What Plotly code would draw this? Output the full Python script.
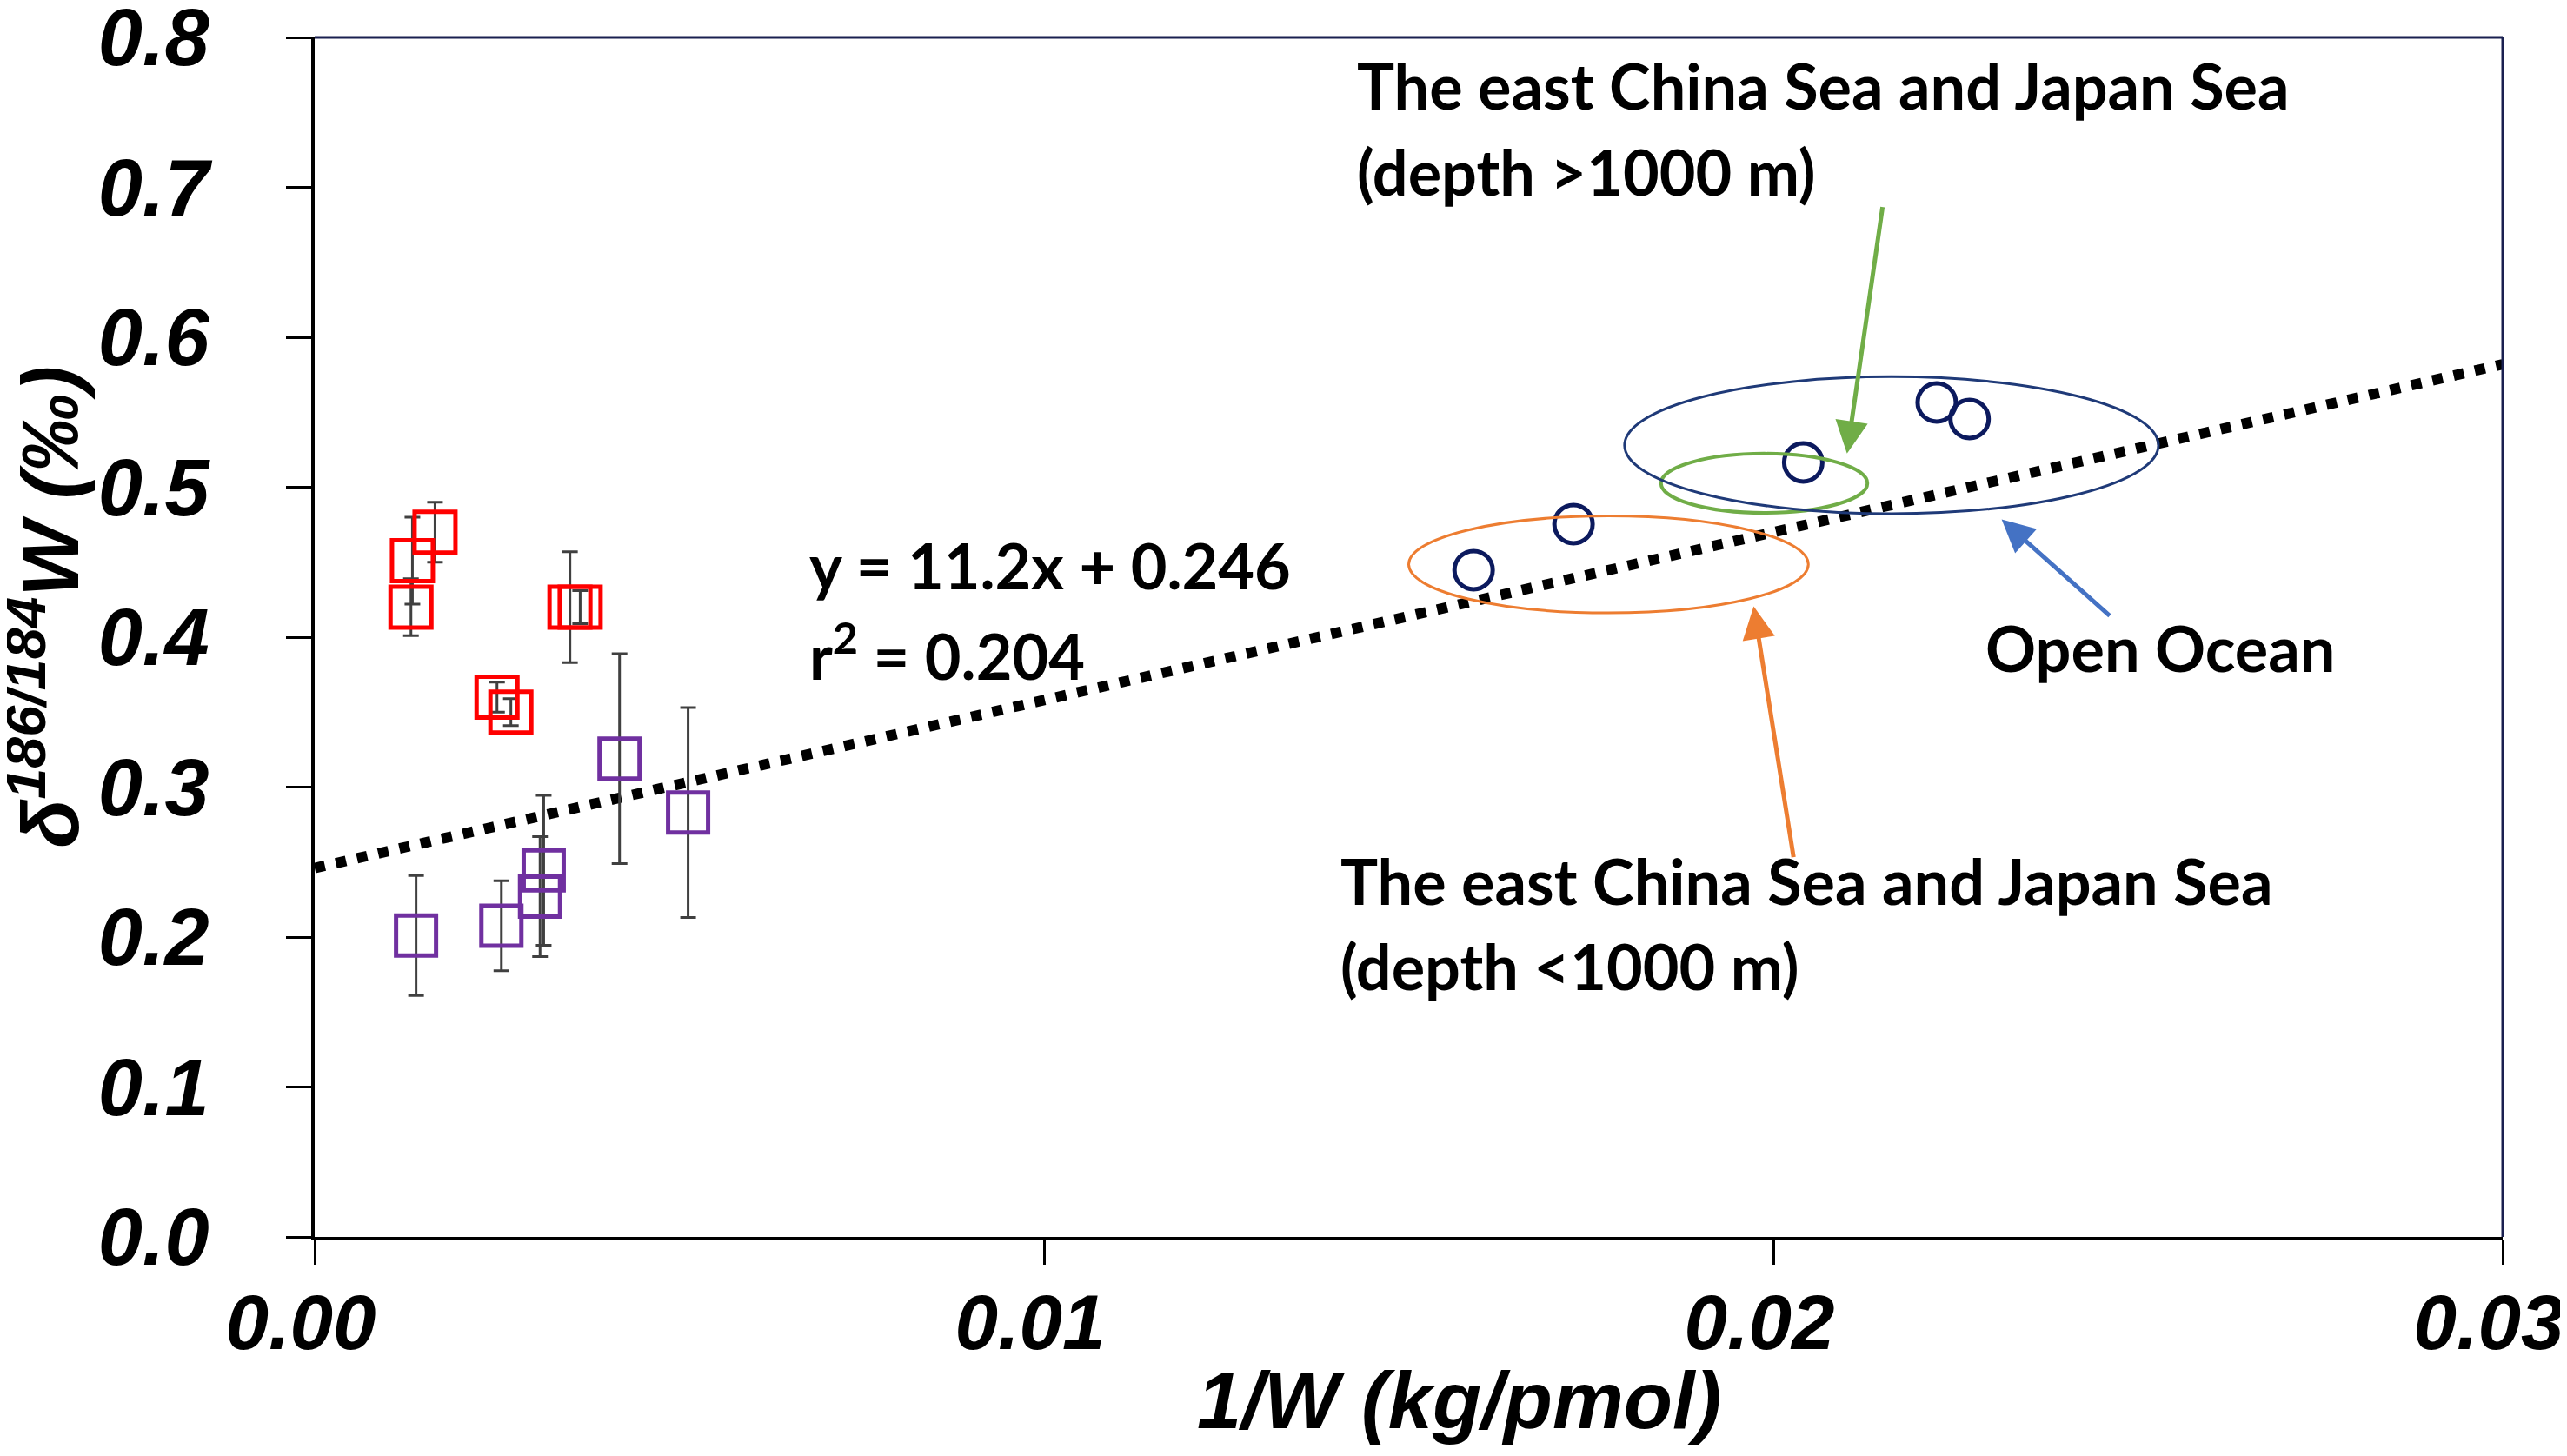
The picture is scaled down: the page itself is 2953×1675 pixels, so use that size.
import plotly.graph_objects as go

# coastal samples (red squares)
red_x = [0.00165, 0.00134, 0.00132, 0.00350, 0.00364, 0.00250, 0.00269]
red_y = [0.470, 0.451, 0.420, 0.420, 0.420, 0.360, 0.350]
red_err = [0.020, 0.029, 0.019, 0.037, 0.011, 0.010, 0.009]

# purple squares
purple_x = [0.00139, 0.00256, 0.00314, 0.00309, 0.00418, 0.00512]
purple_y = [0.201, 0.2075, 0.2445, 0.227, 0.319, 0.283]
purple_err = [0.040, 0.030, 0.050, 0.040, 0.070, 0.070]

# seawater samples (open circles)
circle_x = [0.01589, 0.01726, 0.02041, 0.02224, 0.02269]
circle_y = [0.4447, 0.4754, 0.5165, 0.5565, 0.5455]

# regression line
slope = 11.2
intercept = 0.246
fit_x = [0.0, 0.03]
fit_y = [slope * v + intercept for v in fit_x]

# ellipses: x0, x1, y0, y1, colour, width
ellipses = [
    (0.01500, 0.02048, 0.4162, 0.4808, "#ed7d31", 3),
    (0.01846, 0.02129, 0.4829, 0.5224, "#70ad47", 4),
    (0.01796, 0.02528, 0.4823, 0.5737, "#1f3a78", 3),
]

# arrows: tip x, tip y, tail x, tail y, colour
arrows = [
    (0.02101, 0.5224, 0.02150, 0.6877, "#70ad47"),
    (0.01973, 0.4206, 0.02028, 0.2524, "#ed7d31"),
    (0.02313, 0.4785, 0.02463, 0.4135, "#4472c4"),
]

# text labels: text, x, y
labels = [
    ("The east China Sea and Japan Sea", 0.01427, 0.7679),
    ("(depth >1000 m)", 0.01427, 0.7106),
    ("y = 11.2x + 0.246", 0.00676, 0.4480),
    ("r<sup>2</sup> = 0.204", 0.00676, 0.3907),
    ("Open Ocean", 0.02289, 0.3929),
    ("The east China Sea and Japan Sea", 0.01404, 0.2376),
    ("(depth <1000 m)", 0.01404, 0.1807),
]

x_ticks = [0.0, 0.01, 0.02, 0.03]
y_ticks = [0.0, 0.1, 0.2, 0.3, 0.4, 0.5, 0.6, 0.7, 0.8]

fig = go.Figure()

fig.add_trace(go.Scatter(
    x=fit_x, y=fit_y, mode='lines',
    line=dict(color='black', width=12, dash='12px,13px'),
    showlegend=False, hoverinfo='skip'
))

fig.add_trace(go.Scatter(
    x=red_x, y=red_y, mode='markers',
    marker=dict(symbol='square-open', size=47, color='#ff0000',
                line=dict(width=5, color='#ff0000')),
    error_y=dict(type='data', array=red_err, color='#404040', thickness=3, width=9),
    showlegend=False
))

fig.add_trace(go.Scatter(
    x=purple_x, y=purple_y, mode='markers',
    marker=dict(symbol='square-open', size=46, color='#7030a0',
                line=dict(width=5, color='#7030a0')),
    error_y=dict(type='data', array=purple_err, color='#404040', thickness=3, width=9),
    showlegend=False
))

fig.add_trace(go.Scatter(
    x=circle_x, y=circle_y, mode='markers',
    marker=dict(symbol='circle-open', size=44, color='#0c1a5e',
                line=dict(width=5, color='#0c1a5e')),
    showlegend=False
))

for x0, x1, y0, y1, col, w in ellipses:
    fig.add_shape(type='circle', xref='x', yref='y', x0=x0, x1=x1, y0=y0, y1=y1,
                  line=dict(color=col, width=w))

# top and right frame
fig.add_shape(type='line', xref='paper', yref='paper', x0=0, x1=1, y0=1, y1=1,
              line=dict(color='#1a2050', width=3))
fig.add_shape(type='line', xref='paper', yref='paper', x0=1, x1=1, y0=0, y1=1,
              line=dict(color='#1a2050', width=3))

for tx, ty, sx, sy, col in arrows:
    fig.add_annotation(x=tx, y=ty, ax=sx, ay=sy, xref='x', yref='y', axref='x', ayref='y',
                       text='', showarrow=True, arrowhead=2, arrowsize=1.5,
                       arrowwidth=5, arrowcolor=col, standoff=0)

for txt, lx, ly in labels:
    fig.add_annotation(x=lx, y=ly, xref='x', yref='y', text=txt, showarrow=False,
                       xanchor='left', yanchor='middle',
                       font=dict(family='Lato', size=72, color='black', weight='bold'))

# axis titles
fig.add_annotation(x=0.523, y=-0.136, xref='paper', yref='paper', text='1/W (kg/pmol)',
                   showarrow=False, xanchor='center', yanchor='middle',
                   font=dict(family='Liberation Sans', size=92, color='black',
                             weight='bold', style='italic'))
fig.add_annotation(x=-0.1235, y=0.525, xref='paper', yref='paper',
                   text='δ<sup>186/184</sup>W (‰)', textangle=-90,
                   showarrow=False, xanchor='center', yanchor='middle',
                   font=dict(family='Liberation Sans', size=92, color='black',
                             weight='bold', style='italic'))

tick_font = dict(family='Liberation Sans', size=92, color='black',
                 weight='bold', style='italic')

fig.update_xaxes(range=[0, 0.03], tickvals=x_ticks, tickformat='.2f',
                 showline=True, linecolor='black', linewidth=4,
                 ticks='outside', ticklen=28, tickwidth=3, tickcolor='black',
                 tickfont=dict(tick_font, size=89), ticklabelstandoff=-10,
                 ticklabelshift=-16, ticklabeloverflow='allow',
                 automargin=False, showgrid=False, zeroline=False)
fig.update_yaxes(range=[0, 0.8], tickvals=y_ticks, tickformat='.1f',
                 showline=True, linecolor='black', linewidth=4,
                 ticks='outside', ticklen=29, tickwidth=3, tickcolor='black',
                 tickfont=tick_font, ticklabelstandoff=70, ticklabeloverflow='allow',
                 automargin=False, showgrid=False, zeroline=False)

fig.update_layout(
    width=2953, height=1675,
    margin=dict(l=354, r=82, t=35, b=260, autoexpand=False),
    plot_bgcolor='white', paper_bgcolor='white',
    showlegend=False
)

fig.write_html("out.html")
